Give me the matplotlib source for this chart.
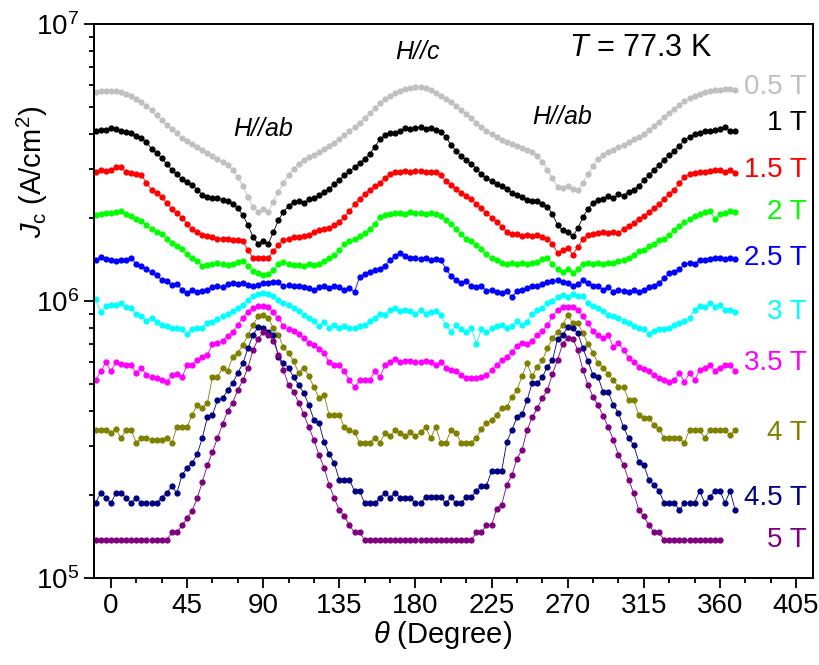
import matplotlib
matplotlib.use("Agg")
import matplotlib.pyplot as plt
import numpy as np
from matplotlib.ticker import MultipleLocator, LogLocator, NullFormatter

plt.rcParams['font.family'] = ['Liberation Sans', 'DejaVu Sans']
plt.rcParams['mathtext.fontset'] = 'custom'
plt.rcParams['mathtext.rm'] = 'Liberation Sans'
plt.rcParams['mathtext.it'] = 'Liberation Sans:italic'
plt.rcParams['mathtext.bf'] = 'Liberation Sans:bold'

# angle grid (degrees), measured every 3 degrees
theta = list(range(-9, 370, 3))

# Jc in units of 1e5 A/cm^2
jc_05 = [57.0, 57.3, 57.3,
         57.3, 57.3, 56.8, 55.8, 54.9, 53.5, 52.2, 50.6, 48.9, 46.9, 45.0, 43.2, 41.8, 40.4, 38.7,
         37.8, 36.9, 36.0, 35.1, 34.3, 33.4, 32.6, 31.8, 31.0, 29.7, 28.0, 26.0, 23.7, 21.9, 21.0,
         21.5, 21.0, 22.8, 24.8, 26.7, 28.5, 30.0, 31.3, 32.3, 33.1, 33.7, 34.5, 35.4, 36.3, 37.2,
         38.4, 39.7, 41.1, 42.5, 44.0, 45.7, 47.7, 49.8, 51.7, 53.5, 54.9, 56.3, 57.3, 58.2, 58.7,
         59.2, 59.2, 58.7, 57.8, 56.3, 54.9, 53.5, 52.2, 50.6, 48.9, 47.3, 45.7, 44.0, 42.5, 41.1,
         40.0, 39.1, 38.1, 37.5, 36.9, 36.3, 35.7, 35.1, 34.5, 33.4, 31.8, 29.7, 27.8, 25.8, 25.6,
         26.0, 25.4, 25.2, 26.7, 28.7, 30.7, 32.6, 33.7, 34.5, 35.1, 36.0, 36.6, 37.5, 38.4, 39.1,
         40.0, 41.4, 42.8, 44.4, 46.1, 47.7, 49.3, 51.0, 52.7, 54.0, 54.9, 55.8, 56.8, 57.3, 57.8,
         57.8, 58.2, 58.2, 57.8]

jc_1 = [41.1, 41.4, 41.4,
        42.1, 41.8, 41.1, 40.7, 40.4, 39.4, 38.7, 37.5, 35.4, 34.3, 32.8, 31.3, 29.7, 28.7, 27.5,
        26.9, 26.2, 25.2, 24.2, 23.7, 23.5, 23.5, 23.2, 22.9, 22.4, 21.6, 20.4, 18.8, 17.0, 16.1,
        16.4, 16.1, 17.7, 19.6, 21.0, 22.0, 22.8, 22.9, 22.6, 23.3, 23.5, 24.2, 24.8, 25.4, 26.4,
        27.3, 28.5, 29.4, 30.4, 31.4, 32.6, 34.0, 36.0, 38.4, 39.7, 40.4, 40.4, 41.1, 42.1, 41.8,
        42.1, 42.5, 41.8, 42.1, 41.4, 40.7, 39.1, 36.6, 34.8, 33.4, 32.3, 31.3, 30.0, 28.7, 27.8,
        27.1, 26.4, 26.0, 25.4, 24.6, 24.2, 23.7, 23.2, 22.9, 22.9, 22.4, 21.9, 20.6, 18.8, 18.0,
        17.8, 17.1, 18.3, 20.1, 21.5, 22.6, 23.2, 23.3, 24.0, 23.5, 24.4, 24.0, 24.8, 25.2, 26.0,
        27.3, 28.5, 29.7, 31.0, 32.3, 33.7, 34.8, 36.3, 38.1, 39.1, 40.0, 40.4, 41.1, 41.1, 41.4,
        41.8, 42.5, 41.1, 41.1]

jc_15 = [29.2, 29.7, 29.4,
         29.7, 30.4, 30.4, 29.2, 28.9, 28.7, 28.5, 26.7, 25.2, 24.6, 23.7, 22.6, 21.5, 20.8, 20.0,
         19.0, 18.2, 17.7, 17.3, 17.1, 17.0, 16.8, 16.8, 16.8, 16.6, 16.6, 16.4, 15.3, 14.3, 14.3,
         14.3, 14.3, 15.1, 15.9, 16.6, 16.8, 17.0, 17.0, 17.1, 17.3, 17.7, 18.0, 18.2, 18.3, 18.8,
         19.3, 20.1, 21.1, 22.4, 23.3, 24.4, 25.2, 26.0, 26.7, 27.8, 28.7, 29.2, 29.2, 29.4, 29.2,
         29.4, 29.4, 29.2, 29.2, 29.2, 28.5, 27.1, 26.2, 25.4, 24.6, 24.0, 23.3, 22.4, 21.6, 20.8,
         20.0, 19.3, 18.5, 17.8, 17.4, 17.4, 17.1, 17.3, 17.1, 17.3, 17.0, 16.8, 16.1, 14.9, 15.3,
         15.6, 14.7, 15.7, 16.7, 17.3, 17.4, 17.6, 17.7, 17.6, 17.7, 17.6, 18.2, 18.6, 19.1, 19.8,
         20.2, 21.0, 21.6, 22.4, 23.3, 24.4, 25.2, 26.7, 28.0, 28.7, 28.9, 29.2, 29.2, 29.4, 29.7,
         29.7, 29.2, 29.7, 28.9]

jc_2 = [20.4, 20.6, 20.8,
        20.8, 21.0, 21.1, 20.6, 20.2, 19.8, 19.4, 18.8, 18.2, 17.8, 17.4, 16.8, 16.2, 15.8, 15.4,
        14.8, 14.3, 14.0, 13.4, 13.5, 13.6, 13.7, 13.6, 13.5, 13.6, 13.8, 14.0, 13.4, 12.8, 12.6,
        12.4, 12.5, 12.9, 13.6, 13.8, 13.6, 13.5, 13.5, 13.4, 13.6, 13.5, 13.6, 14.0, 14.3, 14.6,
        15.3, 16.0, 16.4, 16.7, 17.1, 17.6, 18.2, 19.0, 20.1, 20.4, 20.6, 20.8, 20.8, 20.6, 21.0,
        20.8, 20.8, 20.6, 20.8, 20.6, 20.2, 19.6, 19.0, 18.2, 17.4, 16.8, 16.4, 15.9, 15.4, 14.8,
        14.3, 14.1, 13.7, 13.6, 13.7, 13.6, 13.7, 13.6, 13.7, 13.8, 14.2, 14.3, 13.6, 13.1, 12.7,
        13.0, 12.6, 13.1, 13.6, 13.7, 13.6, 13.7, 13.6, 13.7, 13.7, 14.0, 14.1, 14.3, 14.6, 15.1,
        15.3, 15.8, 16.0, 16.6, 16.8, 17.3, 18.0, 18.6, 19.3, 19.8, 20.2, 20.6, 21.0, 21.1, 19.8,
        20.6, 20.8, 21.1, 21.0]

jc_25 = [14.1, 14.4, 14.2,
         14.1, 14.0, 14.1, 14.1, 14.3, 13.6, 13.4, 13.1, 12.7, 12.4, 11.9, 11.8, 11.4, 11.5, 11.0,
         10.7, 11.0, 10.8, 10.9, 11.0, 11.2, 11.3, 11.2, 11.5, 11.6, 11.5, 11.6, 11.4, 11.3, 11.4,
         11.6, 11.6, 11.7, 11.7, 11.3, 11.4, 11.3, 11.3, 11.2, 11.1, 11.0, 11.2, 11.3, 11.1, 11.3,
         11.2, 11.0, 11.1, 10.8, 12.2, 12.5, 12.7, 12.9, 13.1, 13.4, 14.1, 14.5, 14.9, 14.5, 14.3,
         14.3, 14.2, 14.3, 14.1, 14.2, 14.1, 13.1, 12.3, 11.9, 11.6, 11.8, 11.3, 11.2, 11.3, 10.9,
         11.0, 10.8, 10.7, 10.9, 10.3, 10.9, 11.0, 11.1, 11.3, 11.3, 11.5, 11.7, 11.8, 11.9, 11.7,
         11.6, 11.3, 11.5, 11.9, 11.6, 11.3, 11.3, 11.0, 11.2, 10.8, 11.0, 10.9, 10.8, 11.0, 10.8,
         11.0, 11.2, 11.3, 11.6, 12.1, 12.6, 12.7, 13.0, 13.6, 13.7, 13.6, 14.1, 14.1, 14.2, 14.3,
         14.3, 14.2, 14.3, 14.2]

jc_3 = [10.2, 9.1, 9.6,
        9.7, 9.7, 9.8, 9.5, 9.4, 9.0, 8.8, 8.5, 8.7, 8.4, 8.2, 8.1, 8.0, 8.0, 7.9,
        7.6, 7.9, 8.0, 8.0, 8.3, 8.4, 8.6, 8.8, 9.0, 9.2, 9.4, 9.7, 10.1, 10.4, 10.6,
        10.7, 10.6, 10.4, 10.1, 9.8, 9.7, 9.4, 9.2, 8.9, 8.7, 8.5, 8.1, 8.4, 8.0, 8.2,
        8.0, 8.1, 8.0, 8.0, 8.1, 8.2, 8.5, 8.7, 9.0, 8.9, 9.3, 9.4, 9.2, 9.3, 9.2,
        9.0, 9.3, 9.0, 9.1, 9.2, 8.9, 8.2, 7.7, 8.2, 7.9, 7.7, 8.0, 7.0, 7.9, 7.7,
        8.0, 8.1, 8.2, 8.0, 8.1, 8.5, 8.2, 8.4, 9.0, 9.3, 9.4, 9.8, 10.0, 10.3, 10.5,
        10.3, 10.6, 10.4, 10.4, 9.8, 9.6, 9.4, 9.2, 8.9, 8.8, 8.7, 8.5, 8.3, 8.1, 8.0,
        7.9, 7.6, 7.8, 7.9, 7.9, 8.0, 8.2, 8.3, 8.5, 8.7, 9.3, 9.6, 9.5, 9.8, 9.5,
        9.7, 9.3, 9.3, 9.1]

jc_35 = [5.18, 5.58, 6.0,
         5.58, 6.0, 5.9, 5.87, 5.87, 5.5, 5.75, 5.4, 5.3, 5.26, 5.18, 5.1, 5.4, 5.45, 5.3,
         5.87, 5.87, 6.1, 6.3, 6.38, 7.0, 7.05, 7.2, 7.5, 7.7, 8.2, 8.7, 9.1, 9.4, 9.6,
         9.6, 9.5, 9.1, 8.7, 8.1, 7.9, 7.8, 7.6, 7.35, 7.05, 6.94, 6.7, 6.5, 6.0, 5.87,
         5.87, 5.58, 5.18, 4.88, 5.18, 5.18, 5.18, 5.58, 5.3, 5.87, 6.0, 6.2, 6.0, 6.05, 6.05,
         6.0, 6.0, 6.05, 6.0, 5.87, 6.0, 5.75, 5.63, 5.58, 5.4, 5.26, 5.26, 5.26, 5.3, 5.4,
         5.63, 5.87, 6.1, 6.3, 6.55, 6.9, 7.05, 7.0, 7.2, 7.54, 7.8, 8.2, 8.8, 9.3, 9.5,
         9.5, 9.5, 9.3, 8.8, 8.3, 7.8, 7.54, 7.35, 7.54, 6.8, 7.05, 6.65, 6.25, 6.0, 5.8,
         5.68, 5.58, 5.4, 5.26, 5.18, 5.1, 5.18, 5.5, 5.1, 5.5, 5.18, 5.63, 5.75, 5.87, 5.58,
         5.75, 5.87, 5.87, 5.58]

jc_4 = [3.42, 3.42, 3.42,
        3.34, 3.45, 3.2, 3.42, 3.42, 3.08, 3.2, 3.2, 3.15, 3.15, 3.15, 3.2, 3.08, 3.5, 3.5,
        3.5, 3.88, 4.21, 4.1, 4.28, 5.3, 5.3, 5.75, 5.58, 6.3, 6.5, 6.94, 7.54, 8.19, 8.8,
        8.9, 8.7, 8.0, 7.54, 6.8, 6.5, 6.05, 5.5, 5.75, 5.35, 4.88, 4.47, 4.58, 3.88, 3.88,
        3.88, 3.5, 3.42, 3.36, 3.08, 3.08, 3.08, 3.2, 3.08, 3.34, 3.25, 3.42, 3.34, 3.25, 3.36,
        3.25, 3.36, 3.5, 3.2, 3.5, 3.08, 3.08, 3.42, 3.34, 3.08, 3.08, 3.08, 3.2, 3.46, 3.63,
        3.72, 3.88, 4.1, 4.14, 4.5, 4.77, 5.35, 5.95, 5.35, 5.8, 6.1, 6.75, 7.35, 7.7, 8.2,
        8.9, 8.3, 8.3, 7.65, 7.0, 6.5, 5.95, 5.75, 5.45, 5.18, 4.9, 4.9, 4.39, 4.39, 3.88,
        3.78, 3.78, 3.57, 3.46, 3.2, 3.2, 3.2, 3.2, 3.08, 3.42, 3.42, 3.42, 3.2, 3.42, 3.42,
        3.42, 3.42, 3.28, 3.42]

jc_45 = [1.87, 2.03, 1.95,
         1.86, 2.03, 2.03, 1.95, 1.86, 1.95, 1.86, 1.86, 1.86, 1.86, 1.95, 2.03, 2.14, 2.03, 2.35,
         2.5, 2.6, 2.8, 3.2, 3.8, 3.88, 4.39, 4.45, 4.77, 5.05, 5.5, 5.95, 6.75, 7.54, 8.05,
         8.0, 7.75, 7.54, 6.3, 5.95, 5.75, 5.3, 4.97, 4.65, 4.21, 3.72, 3.63, 3.1, 2.8, 2.6,
         2.26, 2.26, 2.26, 2.06, 2.06, 1.86, 1.86, 1.86, 1.95, 2.03, 1.95, 2.03, 1.95, 1.95, 1.95,
         1.86, 1.86, 1.96, 1.96, 1.96, 1.96, 1.86, 1.96, 1.86, 1.86, 1.96, 1.96, 2.06, 2.15, 2.15,
         2.44, 2.44, 2.44, 3.1, 3.42, 3.8, 3.9, 4.39, 5.05, 5.05, 5.3, 5.8, 6.1, 7.3, 7.54,
         8.05, 8.0, 7.65, 6.75, 6.05, 5.4, 5.3, 4.69, 4.69, 4.21, 3.95, 3.5, 3.2, 3.02, 2.63,
         2.56, 2.26, 2.17, 2.06, 1.87, 1.87, 1.87, 1.76, 1.87, 1.87, 1.87, 2.06, 1.87, 1.96, 2.06,
         2.06, 1.87, 2.06, 1.76]

jc_5 = [1.37, 1.37, 1.37,
        1.37, 1.37, 1.37, 1.37, 1.37, 1.37, 1.37, 1.37, 1.37, 1.37, 1.37, 1.37, 1.46, 1.46, 1.55,
        1.64, 1.75, 1.94, 2.22, 2.55, 2.85, 3.2, 3.6, 4.0, 4.3, 4.77, 5.18, 5.75, 6.65, 7.3,
        7.7, 7.54, 7.2, 6.4, 5.63, 4.97, 4.7, 4.3, 3.9, 3.5, 3.15, 2.78, 2.5, 2.17, 1.94,
        1.76, 1.67, 1.55, 1.46, 1.46, 1.37, 1.37, 1.37, 1.37, 1.37, 1.37, 1.37, 1.37, 1.37, 1.37,
        1.37, 1.37, 1.37, 1.37, 1.37, 1.37, 1.37, 1.37, 1.37, 1.37, 1.37, 1.37, 1.46, 1.46, 1.55,
        1.55, 1.78, 1.84, 2.17, 2.35, 2.7, 2.9, 3.42, 3.8, 4.1, 4.47, 4.77, 5.45, 6.12, 7.0,
        7.35, 7.3, 6.65, 5.63, 4.97, 4.5, 4.2, 3.85, 3.5, 3.15, 2.78, 2.56, 2.26, 2.03, 1.76,
        1.67, 1.55, 1.46, 1.46, 1.37, 1.37, 1.37, 1.37, 1.37, 1.37, 1.37, 1.37, 1.37, 1.37, 1.37,
        1.37]

series = [jc_05, jc_1, jc_15, jc_2, jc_25, jc_3, jc_35, jc_4, jc_45, jc_5]
labels = ["0.5 T", "1 T", "1.5 T", "2 T", "2.5 T", "3 T", "3.5 T", "4 T", "4.5 T", "5 T"]
colors = ["#c0c0c0", "#000000", "#ff0000", "#00ff00", "#0000ff",
          "#00ffff", "#ff00ff", "#808000", "#000080", "#800080"]
# label vertical positions (A/cm^2)
label_y = [5.93e6, 4.39e6, 2.97e6, 2.10e6, 1.43e6, 9.13e5, 5.97e5, 3.34e5, 1.94e5, 1.37e5]

fig = plt.figure(figsize=(8.2, 6.65), dpi=100)
ax = fig.add_axes([94/820, 1-578/665, (813-94)/820, (578-24)/665])

for vals, col in zip(series, colors):
    x = theta[:len(vals)]
    y = np.array(vals) * 1e5
    ax.plot(x, y, '-', color=col, lw=0.6, marker='o', ms=4.5, mec=col, mfc=col, mew=0)

ax.set_yscale('log')
ax.set_xlim(-10, 415)
ax.set_ylim(1e5, 1e7)

ax.xaxis.set_major_locator(MultipleLocator(45))
ax.xaxis.set_minor_locator(MultipleLocator(15))
ax.yaxis.set_major_locator(LogLocator(base=10, numticks=10))
ax.yaxis.set_minor_locator(LogLocator(base=10, subs=np.arange(2, 10), numticks=20))
ax.yaxis.set_minor_formatter(NullFormatter())

ax.tick_params(which='both', direction='out', top=False, right=False, width=1.3,
               labelsize=20, colors='black')
ax.tick_params(which='major', length=7)
ax.tick_params(which='minor', length=3.5)
for sp in ax.spines.values():
    sp.set_linewidth(1.4)

ax.set_xlabel(r'$\theta$ (Degree)', fontsize=21)
ax.set_ylabel(r'$J_\mathrm{c}$ (A/cm$^2$)', fontsize=21)
ax.xaxis.set_label_coords((443-94)/719, (578-619)/554)
ax.yaxis.set_label_coords((50-94)/719, (578-172)/554)

for lab, col, ly in zip(labels, colors, label_y):
    ax.text(411.5, ly, lab, color=col, fontsize=20, ha='right', va='center')

ax.text(90, 4.18e6, "H//ab", fontsize=18, style='italic', ha='center', va='center')
ax.text(181.5, 7.93e6, "H//c", fontsize=18, style='italic', ha='center', va='center')
ax.text(266.7, 4.61e6, "H//ab", fontsize=18, style='italic', ha='center', va='center')
ax.text(313, 8.16e6, r"$T$ = 77.3 K", fontsize=22, ha='center', va='center')

fig.savefig("out.png", dpi=100)
